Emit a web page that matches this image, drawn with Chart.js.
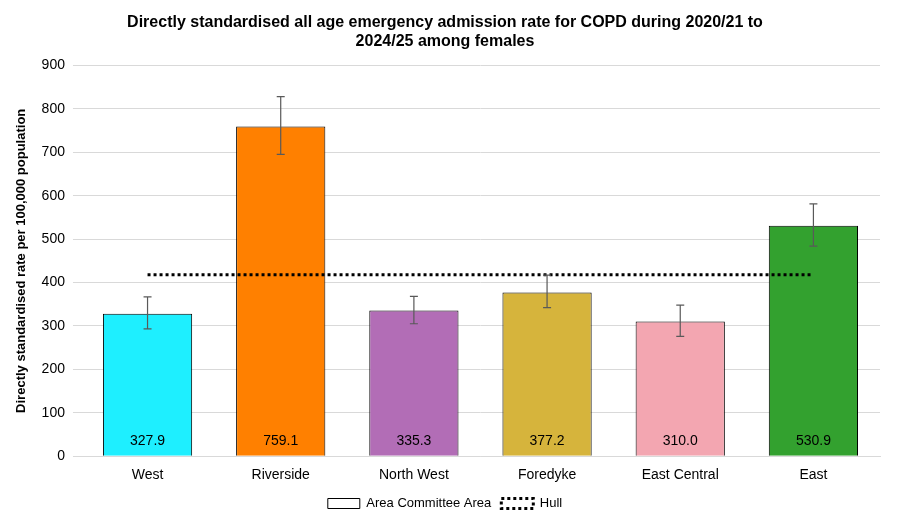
<!DOCTYPE html>
<html>
<head>
<meta charset="utf-8">
<script src="https://cdn.jsdelivr.net/npm/chart.js@4"></script>
<style>
  body { margin: 0; background: #fff; }
  #wrap { width: 920px; height: 525px; }
</style>
</head>
<body>
<div id="wrap"><canvas id="chart"></canvas></div>
<script>
const areas = ["West", "Riverside", "North West", "Foredyke", "East Central", "East"];
const rates = [327.9, 759.1, 335.3, 377.2, 310.0, 530.9];
const lowerCI = [293, 695, 305, 342, 276, 484];
const upperCI = [367, 828, 368, 417, 348, 581];
const hullRate = [418, 418, 418, 418, 418, 418];
const yTicks = [0, 100, 200, 300, 400, 500, 600, 700, 800, 900];
const barColours = ["#1EEFFF", "#FF8000", "#B26DB6", "#D6B43C", "#F3A6B1", "#33A12F"];

Chart.defaults.font.family = "'Liberation Sans', Arial, sans-serif";
Chart.defaults.color = "#000";

// error bars and value labels drawn from the scales
const extras = {
    id: "extras",
    afterDatasetsDraw(chart) {
        let ctx = chart.ctx;
        let x = chart.scales.x, y = chart.scales.y;
        ctx.save();
        ctx.strokeStyle = "#595959";
        ctx.lineWidth = 1.2;
        areas.forEach((a, i) => {
            let cx = x.getPixelForValue(i);
            let top = y.getPixelForValue(upperCI[i]);
            let bot = y.getPixelForValue(lowerCI[i]);
            ctx.beginPath();
            ctx.moveTo(cx, top); ctx.lineTo(cx, bot);
            ctx.moveTo(cx - 4, top); ctx.lineTo(cx + 4, top);
            ctx.moveTo(cx - 4, bot); ctx.lineTo(cx + 4, bot);
            ctx.stroke();
            ctx.fillStyle = "#000";
            ctx.font = "14px 'Liberation Sans', Arial, sans-serif";
            ctx.textAlign = "center";
            ctx.textBaseline = "middle";
            ctx.fillText(rates[i].toFixed(1), cx, y.getPixelForValue(0) - 15);
        });
        ctx.restore();
    }
};

new Chart(document.getElementById("chart"), {
    data: {
        labels: areas,
        datasets: [
            {
                type: "line",
                label: "Hull",
                data: hullRate,
                borderColor: "#000",
                borderWidth: 3,
                borderDash: [3, 3],
                pointRadius: 0,
                fill: false,
                order: 0
            },
            {
                type: "bar",
                label: "Area Committee Area",
                data: rates,
                backgroundColor: barColours,
                borderColor: "#000",
                borderWidth: 1,
                categoryPercentage: 0.67,
                barPercentage: 1,
                order: 1
            }
        ]
    },
    options: {
        responsive: true,
        maintainAspectRatio: false,
        animation: false,
        layout: { padding: { left: 10, right: 40, top: 5, bottom: 5 } },
        plugins: {
            title: {
                display: true,
                text: ["Directly standardised all age emergency admission rate for COPD during 2020/21 to", "2024/25 among females"],
                font: { size: 16, weight: "bold" },
                padding: { top: 8, bottom: 14 }
            },
            legend: {
                position: "bottom",
                labels: {
                    font: { size: 13 },
                    boxWidth: 32,
                    boxHeight: 10,
                    generateLabels() {
                        return [
                            { text: "Area Committee Area", fillStyle: "#fff", strokeStyle: "#000", lineWidth: 1, datasetIndex: 1 },
                            { text: "Hull", fillStyle: "rgba(0,0,0,0)", strokeStyle: "#000", lineWidth: 3, lineDash: [3, 3], datasetIndex: 0 }
                        ];
                    }
                }
            },
            tooltip: { enabled: false }
        },
        scales: {
            x: {
                grid: { display: false },
                border: { color: "#d9d9d9" },
                ticks: { font: { size: 14 } }
            },
            y: {
                min: 0,
                max: 900,
                afterBuildTicks(axis) { axis.ticks = yTicks.map(v => ({ value: v })); },
                grid: { color: "#d9d9d9" },
                border: { display: false },
                ticks: { font: { size: 14 }, padding: 8 },
                title: {
                    display: true,
                    text: "Directly standardised rate per 100,000 population",
                    font: { size: 13, weight: "bold" }
                }
            }
        }
    },
    plugins: [extras]
});
</script>
</body>
</html>
